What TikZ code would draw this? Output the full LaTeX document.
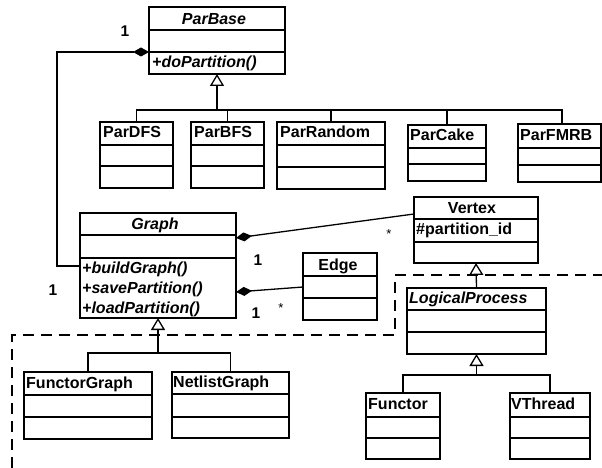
\documentclass[tikz,border=0pt]{standalone}
\usepackage{fontspec}
\setmainfont{Liberation Sans}
\usetikzlibrary{arrows.meta}

% A UML class box: name, left x, right x, top y, first separator, second separator, bottom y
\newcommand\umlclass[7]{%
  \node[classbox, anchor=north west,
        minimum width={(#3)-(#2)}, minimum height={(#7)-(#4)}] (#1) at (#2,#4) {};
  \draw[umlline] (#2,#5) -- (#3,#5) (#2,#6) -- (#3,#6);
}

\begin{document}
\begin{tikzpicture}[x=1pt, y=-1pt,
  umlline/.style={line width=1.3pt, line cap=rect},
  classbox/.style={draw, line width=1.3pt, inner sep=0pt, outer sep=0pt, fill=white},
  lbl/.style={font=\fontsize{16}{19}\selectfont\bfseries, inner sep=0pt},
  ilbl/.style={font=\fontsize{16}{19}\selectfont\bfseries\itshape, inner sep=0pt},
  mult/.style={font=\fontsize{15.5}{18}\selectfont\bfseries, inner sep=0pt},
  star/.style={font=\fontsize{13}{16}\selectfont, inner sep=0pt},
  comp/.style={line width=1.3pt, {Diamond[length=16pt,width=9pt]}-},
  gen/.style={line width=1.3pt, -{Triangle[open,length=12pt,width=14pt]}},
  tree/.style={line width=1.3pt},
  pkg/.style={line width=1.3pt, dash pattern=on 11pt off 7pt}
]
\useasboundingbox (0,0) rectangle (602,468);

% package boundary (dashed)
\draw[pkg] (12,468) -- (12,335) -- (395,335) -- (395,275) -- (602,275);

% partitioner classes
\umlclass{ParBase}{149}{285}{7}{30}{52}{74}
\node[ilbl, anchor=base] (ParBase-n) at (214,25) {ParBase};
\node[ilbl, anchor=base west] (ParBase-m) at (152,68) {+doPartition()};

\umlclass{ParDFS}{100}{173}{122}{145}{166}{188}
\node[lbl, anchor=base west] (ParDFS-n) at (103,138) {ParDFS};
\umlclass{ParBFS}{191}{264}{122}{145}{166}{188}
\node[lbl, anchor=base west] (ParBFS-n) at (194,138) {ParBFS};
\umlclass{ParRandom}{277}{385}{122}{145}{167}{189}
\node[lbl, anchor=base west] (ParRandom-n) at (280,138) {ParRandom};
\umlclass{ParCake}{408}{486}{125}{148}{164}{181}
\node[lbl, anchor=base west] (ParCake-n) at (410,140) {ParCake};
\umlclass{ParFMRB}{518}{601}{124}{148}{165}{182}
\node[lbl, anchor=base west] (ParFMRB-n) at (520,140) {ParFMRB};

% graph classes
\umlclass{Graph}{80}{236}{213}{235}{258}{318}
\node[ilbl, anchor=base] (Graph-n) at (155,229) {Graph};
\node[ilbl, anchor=base west] (Graph-m1) at (82,273) {+buildGraph()};
\node[ilbl, anchor=base west] (Graph-m2) at (82,293) {+savePartition()};
\node[ilbl, anchor=base west] (Graph-m3) at (82,313) {+loadPartition()};

\umlclass{Edge}{303}{377}{253}{276}{298}{320}
\node[lbl, anchor=base] (Edge-n) at (338,270) {Edge};

\umlclass{Vertex}{414}{538}{197}{219}{242}{263}
\node[lbl, anchor=base] (Vertex-n) at (472,213) {Vertex};
\node[lbl, anchor=base west] (Vertex-a) at (416,234) {\#partition\_id};

\umlclass{FunctorGraph}{24}{152}{372}{395}{417}{439}
\node[lbl, anchor=base west] (FunctorGraph-n) at (26,388) {FunctorGraph};
\umlclass{NetlistGraph}{172}{289}{372}{394}{417}{438}
\node[lbl, anchor=base west] (NetlistGraph-n) at (173,387) {NetlistGraph};

% logical processes
\umlclass{LogicalProcess}{407}{546}{288}{310}{332}{354}
\node[ilbl, anchor=base west] (LogicalProcess-n) at (409,303) {LogicalProcess};
\umlclass{Functor}{366}{440}{393}{417}{438}{459}
\node[lbl, anchor=base west] (Functor-n) at (368,409) {Functor};
\umlclass{VThread}{510}{590}{393}{417}{438}{459}
\node[lbl, anchor=base west] (VThread-n) at (511,409) {VThread};

% generalization: partitioners
\coordinate (pbj) at (ParBase.south |- 0,110);
\draw[gen] (pbj) -- (ParBase.south);
\draw[tree] (ParDFS.north) |- (pbj) -| ([xshift=2.5pt]ParFMRB.north);
\draw[tree] (ParBFS.north) -- (ParBFS.north |- pbj);
\draw[tree] (ParRandom.north) -- (ParRandom.north |- pbj);
\draw[tree] (ParCake.north) -- (ParCake.north |- pbj);

% generalization: graphs
\coordinate (gj) at (Graph.south |- 0,353);
\draw[gen] (gj) -- (Graph.south);
\draw[tree] (FunctorGraph.north) |- (gj) -| (NetlistGraph.north);

% generalization: vertex and logical processes
\draw[gen] (LogicalProcess.north) -- (Vertex.south);
\coordinate (lpj) at (LogicalProcess.south |- 0,375);
\draw[gen] (lpj) -- (LogicalProcess.south);
\draw[tree] (Functor.north) |- (lpj) -| (VThread.north);

% compositions
\coordinate (cbend) at (57,52);
\draw[comp] (ParBase.west |- cbend) -- (cbend) -- (cbend |- 0,266) -- (Graph.west |- 0,266);
\draw[comp] (Graph.east |- 0,238) -- (Vertex.west |- 0,214);
\draw[comp] (Graph.east |- 0,292) -- (Edge.west |- 0,287);

% multiplicities
\node[mult] (m1) at (125,31) {1};
\node[mult] (m2) at (53,290) {1};
\node[mult] (m3) at (258,260) {1};
\node[star] (m4) at (389,234) {*};
\node[mult] (m5) at (256,313) {1};
\node[star] (m6) at (281,308) {*};
\end{tikzpicture}
\end{document}
